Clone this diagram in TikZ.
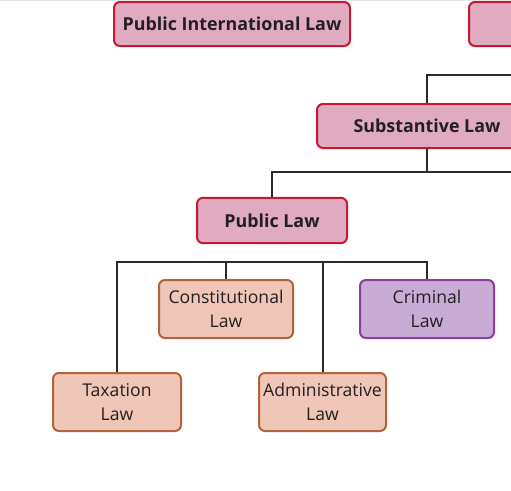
\documentclass[tikz,border=0pt]{standalone}
\usepackage{fontspec}
\setmainfont{Open Sans}
\usetikzlibrary{positioning}

\definecolor{lawpink}{RGB}{224,170,192}
\definecolor{lawred}{RGB}{196,24,52}
\definecolor{lawpeach}{RGB}{240,198,184}
\definecolor{lawbrown}{RGB}{178,98,60}
\definecolor{lawlilac}{RGB}{200,172,214}
\definecolor{lawpurple}{RGB}{140,62,158}
\definecolor{lawtext}{RGB}{35,31,32}

\tikzset{
  lawbox/.style={draw, line width=1.5pt, rounded corners=4.5pt, align=center,
    inner sep=0pt, text=lawtext, font=\fontsize{13.2}{18}\selectfont},
  headbox/.style={lawbox, draw=lawred, fill=lawpink, minimum height=33pt,
    font=\fontsize{13.4}{18}\selectfont\bfseries},
  leafbox/.style={lawbox, draw=lawbrown, fill=lawpeach, minimum height=43.5pt},
  crimbox/.style={lawbox, draw=lawpurple, fill=lawlilac, minimum height=43.5pt},
  wire/.style={draw=lawtext!95, line width=1.5pt}
}

\begin{document}
\begin{tikzpicture}[x=0.75pt,y=0.75pt,yscale=-1,xscale=1]
\useasboundingbox (0,0) rectangle (511,490);
\draw [black!10, line width=0.75pt] (0,0.5) -- (511,0.5);

% Head boxes
\node [headbox, minimum width=177pt] (pil) at (232,24) {Public International Law};
\node [headbox, minimum width=177pt] (other) at (587,24) {};
\node [headbox, minimum width=165pt] (subst) at (427,126) {Substantive Law};
\node [headbox, minimum width=112.5pt, minimum height=34pt] (publ) at (272,220.5) {Public Law};

% Leaf boxes
\node [leafbox, minimum width=100.5pt] (const) at (226,309) {Constitutional\\Law};
\node [crimbox, minimum width=100.5pt] (crim) at (427,309) {Criminal\\Law};
\node [leafbox, minimum width=96pt] (tax) at (117,402) {Taxation\\Law};
\node [leafbox, minimum width=95.25pt] (admin) at (322.5,402) {Administrative\\Law};

% Free ends and bus lines
\coordinate (upper) at (530,75);
\coordinate (lower) at (530,172);
\coordinate (bus) at (0,262);

% Connectors
\draw [wire] (subst.north) |- (upper);
\draw [wire] (subst.south) -- (subst.south |- lower) -- (lower);
\draw [wire] (publ.north) |- (subst.south |- lower);
\draw [wire] (tax.north) -- (tax.north |- bus) -| (crim.north);
\draw [wire] (const.north) -- (const.north |- bus);
\draw [wire] (admin.north) -- (admin.north |- bus);
\end{tikzpicture}
\end{document}
